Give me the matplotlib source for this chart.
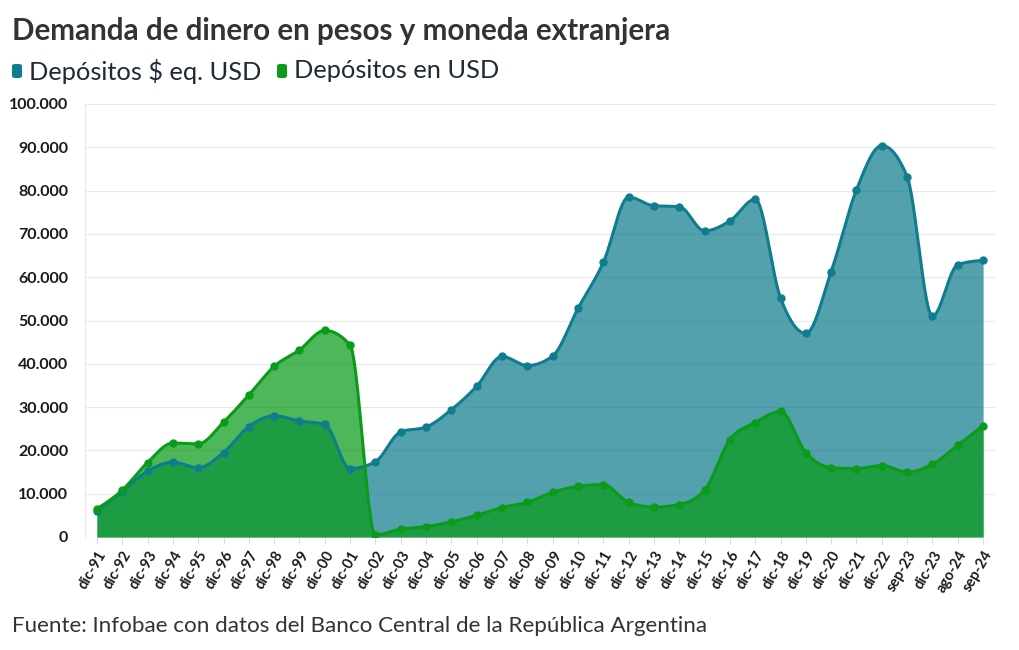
#!/usr/bin/env python3
"""Demanda de dinero en pesos y moneda extranjera - area chart."""

import matplotlib

matplotlib.use("Agg")
import matplotlib.pyplot as plt
from matplotlib.patches import FancyBboxPatch
import numpy as np

labels = [
    "dic-91", "dic-92", "dic-93", "dic-94", "dic-95", "dic-96", "dic-97",
    "dic-98", "dic-99", "dic-00", "dic-01", "dic-02", "dic-03", "dic-04",
    "dic-05", "dic-06", "dic-07", "dic-08", "dic-09", "dic-10", "dic-11",
    "dic-12", "dic-13", "dic-14", "dic-15", "dic-16", "dic-17", "dic-18",
    "dic-19", "dic-20", "dic-21", "dic-22", "sep-23", "dic-23", "ago-24",
    "sep-24",
]
pesos_eq_usd = [
    6000, 10500, 15200, 17300, 16000, 19500, 25500, 28000, 26800, 26000,
    15800, 17400, 24300, 25400, 29400, 34800, 41700, 39600, 41800, 52800,
    63400, 78500, 76500, 76300, 70700, 73000, 78000, 55200, 47000, 61300,
    80200, 90400, 83200, 51000, 62900, 63900,
]
depositos_usd = [
    6500, 10800, 17200, 21700, 21500, 26500, 32800, 39400, 43200, 47700,
    44300, 500, 1800, 2400, 3500, 5000, 6800, 8000, 10300, 11700,
    12100, 8000, 6900, 7500, 10800, 22500, 26400, 29000, 19500, 16000,
    15800, 16500, 15000, 16800, 21200, 25700,
]

TEAL = "#0f7d8e"
GREEN = "#0a9b1a"
TEXT = "#333333"


def monotone_curve(y, steps=30):
    """Monotone cubic (d3 curveMonotoneX style) over evenly spaced x."""
    y = np.asarray(y, dtype=float)
    n = len(y)
    d = np.diff(y)
    t = np.zeros(n)
    for i in range(1, n - 1):
        s0, s1 = d[i - 1], d[i]
        p = (s0 + s1) / 2
        t[i] = (np.sign(s0) + np.sign(s1)) * min(abs(s0), abs(s1), 0.5 * abs(p))
    t[0] = (3 * d[0] - t[1]) / 2
    t[-1] = (3 * d[-1] - t[-2]) / 2
    xs, ys = [], []
    u = np.linspace(0, 1, steps, endpoint=False)
    h00 = 2 * u**3 - 3 * u**2 + 1
    h10 = u**3 - 2 * u**2 + u
    h01 = -2 * u**3 + 3 * u**2
    h11 = u**3 - u**2
    for i in range(n - 1):
        xs.append(i + u)
        ys.append(h00 * y[i] + h10 * t[i] + h01 * y[i + 1] + h11 * t[i + 1])
    xs.append([n - 1])
    ys.append([y[-1]])
    return np.concatenate(xs), np.concatenate(ys)


plt.rcParams["font.family"] = ["Lato", "DejaVu Sans"]

fig = plt.figure(figsize=(10.2, 6.5), dpi=100)
ax = fig.add_axes([85 / 1020, 1 - 537 / 650, 910 / 1020, 433 / 650])

x = np.arange(len(labels))
for series, color in ((pesos_eq_usd, TEAL), (depositos_usd, GREEN)):
    cx, cy = monotone_curve(series)
    ax.fill_between(cx, 0, cy, color=color, alpha=0.72, linewidth=0, zorder=2)
    ax.plot(cx, cy, color=color, linewidth=2.2, zorder=3)
    ax.plot(x, series, "o", color=color, markersize=5, zorder=4)

ax.set_xlim(-0.47, len(labels) - 0.53)
ax.set_ylim(0, 100000)
ax.set_yticks(np.arange(0, 100001, 10000))
ax.set_yticklabels([f"{v:,}".replace(",", ".") for v in range(0, 100001, 10000)])
ax.set_xticks(x)
ax.set_xticklabels(labels, rotation=60, ha="right", rotation_mode="anchor")

ax.grid(axis="y", color="#e8e8e8", linewidth=0.8, zorder=0)
ax.set_axisbelow(True)
for side in ("top", "right", "bottom"):
    ax.spines[side].set_visible(False)
ax.spines["left"].set_color("#e8e8e8")
ax.tick_params(axis="y", length=0, pad=12, labelsize=11.5, labelcolor="#1a1a1a")
ax.tick_params(axis="x", length=5, color="#dddddd", pad=3, labelsize=10.5,
               labelcolor="#1a1a1a")
for lbl in ax.get_yticklabels() + ax.get_xticklabels():
    lbl.set_fontweight("bold")

fig.text(12 / 1020, 1 - 31 / 650, "Demanda de dinero en pesos y moneda extranjera",
         fontsize=21.3, fontweight="bold", color=TEXT, va="center")

legend_y = 1 - 71 / 650
for lx, tx, color, text in ((12, 29, TEAL, "Depósitos $ eq. USD"),
                            (277, 294, GREEN, "Depósitos en USD")):
    fig.patches.append(FancyBboxPatch(
        (lx / 1020, legend_y - 7 / 650), 10 / 1020, 14 / 650,
        boxstyle="round,pad=0,rounding_size=0.003", transform=fig.transFigure,
        facecolor=color, edgecolor="none"))
    fig.text(tx / 1020, legend_y, text, fontsize=18.3, color="#1f2a36", va="center")

fig.text(12 / 1020, 1 - 626 / 650,
         "Fuente: Infobae con datos del Banco Central de la República Argentina",
         fontsize=16.1, color=TEXT, va="center")

fig.savefig("out.png", dpi=100, facecolor="white")
